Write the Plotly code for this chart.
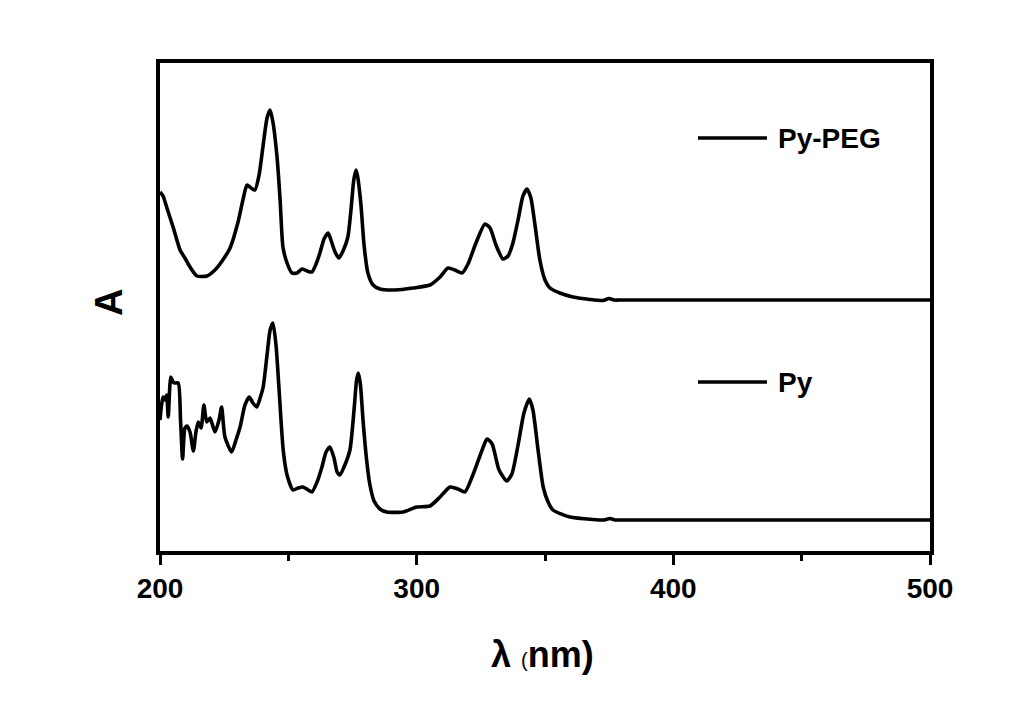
import plotly.graph_objects as go

# Wavelength (nm) and absorbance (arb. units, offset traces)
peg_wl = [200.0, 201.2, 202.7, 205.1, 207.8, 209.7, 211.7, 214.4, 218.3, 221.4, 224.2, 227.3,
          230.4, 232.3, 233.9, 235.5, 237.0, 238.6, 240.1, 241.7, 242.9, 244.0, 245.6, 246.8,
          247.9, 249.5, 251.4, 253.4, 255.3, 257.3, 259.2, 260.8, 262.3, 263.9, 265.5, 266.6,
          268.2, 269.7, 271.3, 273.2, 274.4, 275.5, 276.4, 277.1, 278.3, 279.5, 281.0, 283.0,
          285.7, 291.6, 298.6, 305.2, 309.1, 312.2, 314.9, 317.7, 320.0, 323.1, 326.6, 328.6,
          330.9, 333.6, 335.6, 337.5, 339.5, 341.4, 343.0, 344.5, 346.1, 348.0, 350.0, 351.9,
          355.8, 360.9, 367.5, 372.6, 374.9, 376.9, 380.0, 390.0, 420.0, 460.0, 500.0]
peg_abs = [3.59, 3.55, 3.43, 3.24, 3.01, 2.93, 2.84, 2.75, 2.75, 2.81, 2.90, 3.03,
           3.29, 3.51, 3.66, 3.63, 3.61, 3.76, 4.04, 4.33, 4.41, 4.29, 3.94, 3.51,
           3.04, 2.88, 2.78, 2.78, 2.82, 2.80, 2.79, 2.87, 2.98, 3.12, 3.18, 3.11,
           2.99, 2.93, 3.00, 3.14, 3.41, 3.71, 3.81, 3.73, 3.46, 3.06, 2.78, 2.66,
           2.62, 2.61, 2.63, 2.66, 2.74, 2.83, 2.81, 2.78, 2.87, 3.08, 3.27, 3.23,
           3.06, 2.92, 2.95, 3.08, 3.31, 3.55, 3.62, 3.53, 3.26, 2.91, 2.71, 2.63,
           2.58, 2.54, 2.515, 2.505, 2.525, 2.51, 2.51, 2.51, 2.51, 2.51, 2.51]

py_wl = [200.0, 200.6, 201.2, 201.9, 202.6, 203.2, 204.2, 205.1, 205.8, 207.1, 208.0, 208.8,
         209.7, 210.5, 211.7, 213.0, 214.0, 214.9, 216.0, 217.1, 218.2, 219.5, 221.4, 223.0,
         224.0, 225.3, 227.9, 229.6, 231.2, 233.1, 234.8, 236.2, 237.7, 239.0, 240.2, 241.7,
         242.9, 244.0, 245.2, 246.4, 248.0, 249.5, 251.8, 253.8, 255.7, 257.7, 259.2, 261.2,
         263.1, 264.7, 266.2, 267.8, 269.0, 270.1, 271.7, 274.0, 275.6, 276.6, 277.3, 278.1,
         279.1, 280.5, 281.8, 283.4, 285.7, 288.4, 294.7, 300.0, 305.2, 309.1, 313.0, 316.1,
         318.8, 321.9, 325.5, 327.4, 329.4, 332.1, 335.1, 337.1, 339.5, 341.8, 343.9, 345.3,
         347.3, 349.3, 351.2, 353.1, 359.7, 368.7, 373.0, 375.3, 377.3, 380.0, 390.0, 420.0,
         460.0, 500.0]
py_abs = [1.31, 1.46, 1.54, 1.51, 1.56, 1.34, 1.74, 1.69, 1.68, 1.68, 1.31, 0.92,
          1.23, 1.25, 1.19, 1.00, 1.19, 1.29, 1.23, 1.46, 1.29, 1.33, 1.19, 1.31,
          1.44, 1.14, 0.99, 1.11, 1.24, 1.46, 1.54, 1.48, 1.44, 1.53, 1.64, 1.96,
          2.21, 2.28, 2.06, 1.61, 1.01, 0.76, 0.61, 0.63, 0.64, 0.61, 0.59, 0.69,
          0.84, 0.99, 1.04, 0.93, 0.79, 0.76, 0.84, 1.01, 1.41, 1.71, 1.78, 1.66,
          1.31, 0.91, 0.66, 0.50, 0.42, 0.39, 0.39, 0.44, 0.45, 0.54, 0.64, 0.62,
          0.59, 0.76, 1.01, 1.12, 1.07, 0.81, 0.70, 0.77, 1.06, 1.38, 1.52, 1.41,
          1.01, 0.64, 0.49, 0.41, 0.34, 0.315, 0.31, 0.325, 0.31, 0.31, 0.31, 0.31,
          0.31, 0.31]

series_names = ["Py-PEG", "Py"]
x_ticks = [200, 300, 400, 500]
x_tick_labels = ["200", "300", "400", "500"]

FONT = "Liberation Sans, Arial, sans-serif"

fig = go.Figure()
for wl, ab, name in [(peg_wl, peg_abs, series_names[0]), (py_wl, py_abs, series_names[1])]:
    fig.add_trace(go.Scatter(x=wl, y=ab, mode="lines", name=name,
                             line=dict(color="black", width=3.6, shape="spline", smoothing=0.6),
                             showlegend=False))

fig.update_layout(
    width=1016, height=710,
    margin=dict(l=160, r=86, t=63, b=159),
    paper_bgcolor="white", plot_bgcolor="white",
    font=dict(family=FONT, color="black"),
    xaxis=dict(range=[200, 500], tickvals=x_ticks, ticktext=["<b>%s</b>" % t for t in x_tick_labels],
               ticks="outside", ticklen=10, tickwidth=3, tickcolor="black",
               minor=dict(dtick=50, tick0=200, ticks="outside", ticklen=6, tickwidth=3, tickcolor="black"),
               showline=True, linewidth=3.5, linecolor="black", mirror=True,
               showgrid=False, zeroline=False,
               tickfont=dict(family=FONT, size=28, color="black")),
    yaxis=dict(range=[0, 4.88], showticklabels=False, ticks="",
               showline=True, linewidth=3.5, linecolor="black", mirror=True,
               showgrid=False, zeroline=False),
)

# Legend-like labels placed next to each curve
legend_pos = [(0.8463, series_names[0]), (0.3463, series_names[1])]
for ypos, name in legend_pos:
    fig.add_shape(type="line", xref="paper", yref="paper", x0=0.6987, x1=0.7883, y0=ypos, y1=ypos,
                  line=dict(color="black", width=3.5))
    fig.add_annotation(xref="paper", yref="paper", x=0.800, y=ypos, xanchor="left", yanchor="middle",
                       text="<b>%s</b>" % name, showarrow=False,
                       font=dict(family=FONT, size=28, color="black"))

fig.add_annotation(xref="paper", yref="paper", x=0.497, y=-0.213, xanchor="center", yanchor="middle",
                   text="<b>λ</b> <span style='font-size:20px'>(</span><b>nm)</b>", showarrow=False,
                   font=dict(family=FONT, size=36, color="black"))
fig.add_annotation(xref="paper", yref="paper", x=-0.0662, y=0.508, xanchor="center", yanchor="middle",
                   text="<b>A</b>", textangle=-90, showarrow=False,
                   font=dict(family=FONT, size=38, color="black"))

fig.write_html("out.html")
